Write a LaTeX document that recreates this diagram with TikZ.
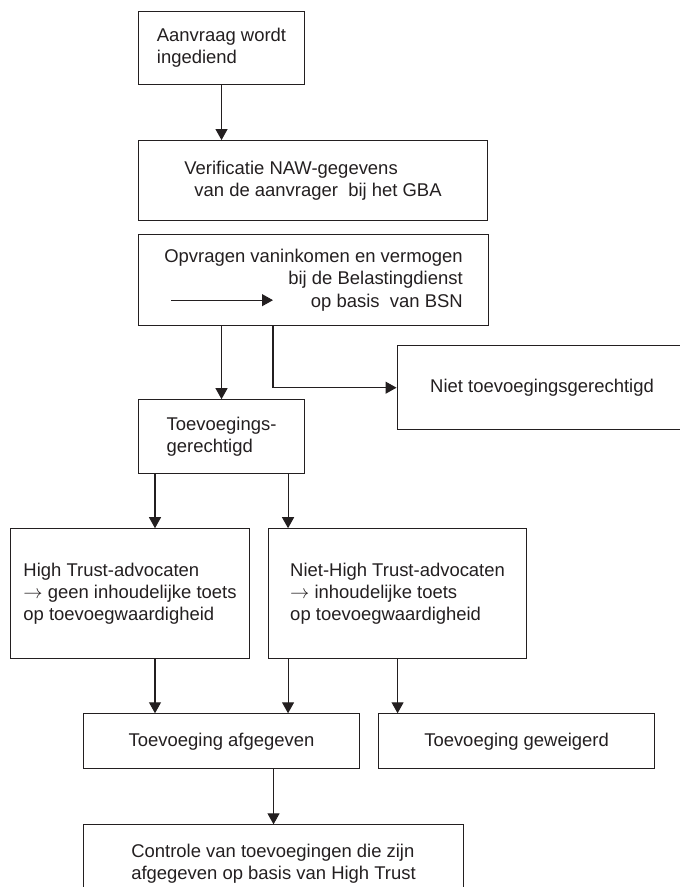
\documentclass[tikz,border=0pt]{standalone}
\usepackage{fontspec}
\setmainfont{Liberation Sans}
\usetikzlibrary{arrows.meta, positioning}
\definecolor{inkt}{RGB}{35,31,32}

\begin{document}
\begin{tikzpicture}[
    every node/.style={font=\fontsize{10.5}{12.6}\selectfont, text=inkt},
    box/.style={draw=inkt, line width=0.6pt, inner sep=0pt, align=left},
    arr/.style={-{Triangle[length=0.22cm, width=0.24cm]}, line width=0.6pt, draw=inkt}
  ]
  \useasboundingbox (0,0) rectangle (13.6,-17.74);
  \clip (0,0) rectangle (13.6,-17.74);

  % aanvraag en controles
  \node[box, minimum width=3.32cm, minimum height=1.46cm, anchor=north west] (aanvraag) at (2.76,-0.22) {Aanvraag wordt\\ingediend};
  \node[box, minimum width=6.98cm, minimum height=1.60cm, below=1.10cm of aanvraag.south west, anchor=north west] (verif) {Verificatie NAW-gegevens\\\hspace*{0.2cm}van de aanvrager\ \ bij het GBA};
  \node[box, align=right, minimum width=7.00cm, minimum height=1.82cm, below=0.26cm of verif.south west, anchor=north west] (opvragen) {Opvragen vaninkomen en vermogen\\bij de Belastingdienst\\op basis\ \ van BSN};
  \draw[arr] (aanvraag) -- (aanvraag |- verif.north);

  % pijl in het vak
  \coordinate (pijlA) at ([shift={(0.66cm,0.52cm)}]opvragen.south west);
  \coordinate (pijlB) at ([shift={(2.70cm,0.52cm)}]opvragen.south west);
  \draw[arr] (pijlA) -- (pijlB);

  % recht of geen recht
  \node[box, minimum width=3.32cm, minimum height=1.48cm, below=1.46cm of opvragen.south west, anchor=north west] (gerecht) {Toevoegings-\\gerechtigd};
  \node[box, minimum width=5.80cm, minimum height=1.68cm, below right=0.38cm and 1.66cm of opvragen.south] (niet) {Niet toevoegingsgerechtigd};
  \draw[arr] (opvragen.south -| gerecht) -- (gerecht);
  \draw[arr] ([xshift=2.70cm]opvragen.south west) |- (niet);

  % advocaten
  \node[box, minimum width=4.78cm, minimum height=2.60cm, below=1.08cm of gerecht.south west, anchor=north west, xshift=-2.56cm] (hightrust) {High Trust-advocaten\\$\rightarrow$ geen inhoudelijke toets\\op toevoegwaardigheid};
  \node[box, minimum width=5.16cm, minimum height=2.60cm, right=0.36cm of hightrust] (niethigh) {Niet-High Trust-advocaten\\$\rightarrow$ inhoudelijke toets\\op toevoegwaardigheid};
  \coordinate (g1) at ([xshift=0.34cm]gerecht.south west);
  \coordinate (g2) at ([xshift=-0.34cm]gerecht.south east);
  \draw[arr] (g1) -- (g1 |- hightrust.north);
  \draw[arr] (g2) -- (g2 |- niethigh.north);

  % uitkomst
  \node[box, align=center, minimum width=5.52cm, minimum height=1.10cm, below=1.08cm of hightrust.south west, anchor=north west, xshift=1.46cm] (afgegeven) {Toevoeging afgegeven};
  \node[box, align=center, minimum width=5.52cm, minimum height=1.10cm, right=0.36cm of afgegeven] (geweigerd) {Toevoeging geweigerd};
  \draw[arr] (g1 |- hightrust.south) -- (g1 |- afgegeven.north);
  \draw[arr] (g2 |- niethigh.south) -- (g2 |- afgegeven.north);
  \draw[arr] (niethigh) -- (niethigh |- geweigerd.north);

  % controle achteraf
  \node[box, minimum width=7.60cm, minimum height=1.56cm, below=1.10cm of afgegeven.south west, anchor=north west] (controle) {Controle van toevoegingen die zijn\\afgegeven op basis van High Trust};
  \draw[arr] (afgegeven.south -| controle) -- (controle);
\end{tikzpicture}
\end{document}
